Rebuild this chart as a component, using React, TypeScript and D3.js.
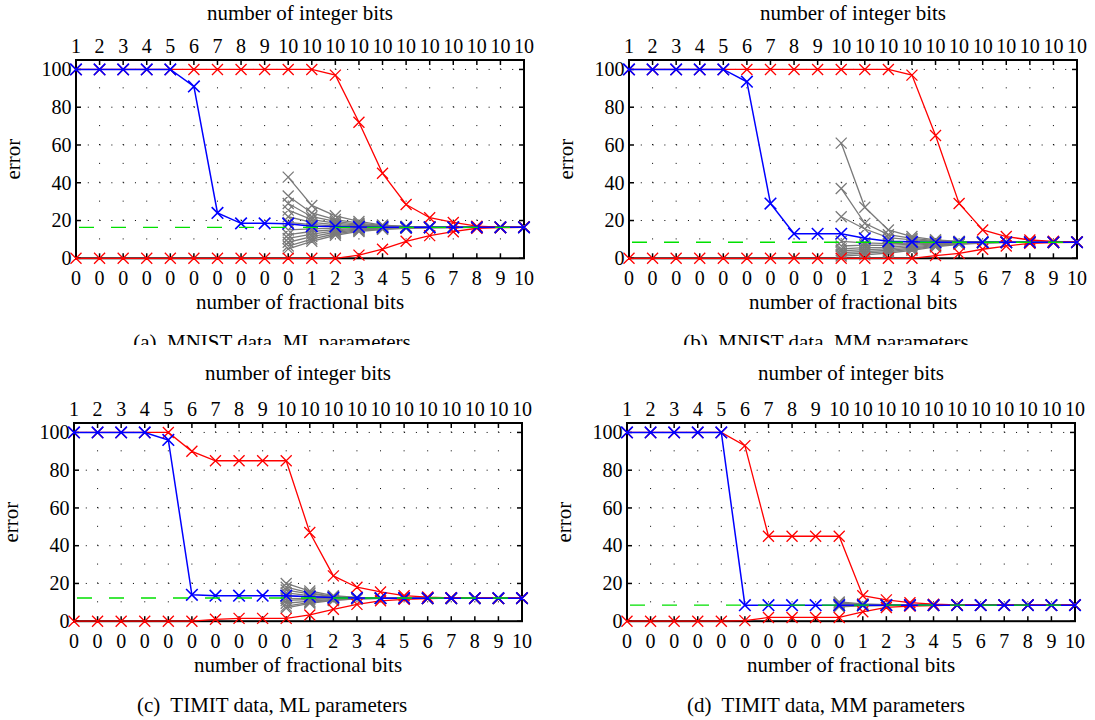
import React from "react";
import * as d3 from "d3";

// ---------- axis labels ----------
const topLabels = ["1", "2", "3", "4", "5", "6", "7", "8", "9", "10", "10", "10", "10", "10", "10", "10", "10", "10", "10", "10"];
const bottomLabels = ["0", "0", "0", "0", "0", "0", "0", "0", "0", "0", "1", "2", "3", "4", "5", "6", "7", "8", "9", "10"];
const yTicks = [0, 20, 40, 60, 80, 100];
const yGridRows = [20, 40, 60, 80, 100];
const yMax = 105;
const grayStart = 9;

// ---------- (a) MNIST data, ML parameters ----------
const mnistMlBlue = [100, 100, 100, 100, 100, 91, 24, 18.5, 18.5, 18.3, 17, 16.8, 16.6, 16.5, 16.4, 16.4, 16.4, 16.4, 16.4, 16.4];
const mnistMlRedHigh = [100, 100, 100, 100, 100, 100, 100, 100, 100, 100, 100, 97, 72, 45, 28.5, 21.5, 19, 17, 16.5, 16.4];
const mnistMlRedLow = [0, 0, 0, 0, 0, 0, 0, 0, 0, 0, 0, 0, 1.7, 4.8, 9, 12, 14.1, 15.9, 16.2, 16.4];
const mnistMlBase = 16.4;
const mnistMlGray = [
  [43, 28, 22.5, 19.5, 17.6, 16.9, 16.6, 16.5, 16.4, 16.4, 16.4],
  [33, 24, 20.5, 18.6, 17.3, 16.8, 16.6, 16.5, 16.4, 16.4, 16.4],
  [29, 22, 19.5, 18, 17.1, 16.7, 16.5, 16.4, 16.4, 16.4, 16.4],
  [25.5, 20.5, 18.6, 17.6, 16.9, 16.6, 16.5, 16.4, 16.4, 16.4, 16.4],
  [22, 19, 17.8, 17.2, 16.8, 16.6, 16.5, 16.4, 16.4, 16.4, 16.4],
  [19, 17.8, 17.2, 16.9, 16.6, 16.5, 16.4, 16.4, 16.4, 16.4, 16.4],
  [15, 15.6, 16, 16.2, 16.3, 16.4, 16.4, 16.4, 16.4, 16.4, 16.4],
  [12.5, 14.2, 15.2, 15.8, 16.1, 16.3, 16.4, 16.4, 16.4, 16.4, 16.4],
  [10.5, 12.8, 14.5, 15.4, 15.9, 16.2, 16.3, 16.4, 16.4, 16.4, 16.4],
  [8.5, 11.5, 13.8, 15, 15.7, 16.1, 16.3, 16.4, 16.4, 16.4, 16.4],
  [6.5, 10.2, 13, 14.6, 15.5, 16, 16.2, 16.3, 16.4, 16.4, 16.4],
  [5, 9, 12.2, 14.2, 15.3, 15.9, 16.2, 16.3, 16.4, 16.4, 16.4],
];

// ---------- (b) MNIST data, MM parameters ----------
const mnistMmBlue = [100, 100, 100, 100, 100, 93.5, 29, 13, 13, 13, 10.6, 9, 8.7, 8.5, 8.5, 8.5, 8.5, 8.5, 8.5, 8.5];
const mnistMmRedHigh = [100, 100, 100, 100, 100, 100, 100, 100, 100, 100, 100, 100, 97, 65, 29, 15, 11.5, 9.7, 9, 8.5];
const mnistMmRedLow = [0, 0, 0, 0, 0, 0, 0, 0, 0, 0, 0, 0, 0, 1.4, 2.6, 4.8, 6.5, 7.9, 8.3, 8.5];
const mnistMmBase = 8.5;
const mnistMmGray = [
  [61, 27, 15, 11.5, 9.8, 9, 8.7, 8.5, 8.5, 8.5, 8.5],
  [37, 18.5, 12.5, 10.5, 9.4, 8.8, 8.6, 8.5, 8.5, 8.5, 8.5],
  [22, 15.5, 11, 9.8, 9.1, 8.7, 8.5, 8.5, 8.5, 8.5, 8.5],
  [9, 8.2, 7.8, 8.1, 8.3, 8.4, 8.5, 8.5, 8.5, 8.5, 8.5],
  [6.5, 7, 6.8, 7.5, 8, 8.3, 8.4, 8.5, 8.5, 8.5, 8.5],
  [5, 5.7, 5.8, 6.8, 7.6, 8.1, 8.4, 8.5, 8.5, 8.5, 8.5],
  [4, 4.6, 5, 6, 7.2, 8, 8.3, 8.5, 8.5, 8.5, 8.5],
  [3, 3.6, 4.2, 5.4, 6.8, 7.8, 8.3, 8.4, 8.5, 8.5, 8.5],
  [2, 2.7, 3.5, 4.8, 6.4, 7.6, 8.2, 8.4, 8.5, 8.5, 8.5],
  [1.2, 1.8, 2.8, 4.2, 6, 7.4, 8.1, 8.4, 8.5, 8.5, 8.5],
];

// ---------- (c) TIMIT data, ML parameters ----------
const timitMlBlue = [100, 100, 100, 100, 96, 14, 13.5, 13.5, 13.5, 13.5, 13, 12.5, 12.3, 12.2, 12.2, 12.2, 12.2, 12.2, 12.2, 12.2];
const timitMlRedHigh = [100, 100, 100, 100, 100, 90, 85, 85, 85, 85, 47, 24, 18, 15.5, 13.5, 12.8, 12.4, 12.2, 12.2, 12.2];
const timitMlRedLow = [0, 0, 0, 0, 0, 0, 1, 1.5, 1.5, 1.5, 3.3, 6.3, 8.9, 10.8, 11.6, 12, 12.2, 12.2, 12.2, 12.2];
const timitMlBase = 12.3;
const timitMlGray = [
  [20, 16, 13.5, 12.6, 12.3, 12.2, 12.2, 12.2, 12.2, 12.2, 12.2],
  [18, 15, 13.2, 12.5, 12.3, 12.2, 12.2, 12.2, 12.2, 12.2, 12.2],
  [16.5, 14.5, 13, 12.4, 12.2, 12.2, 12.2, 12.2, 12.2, 12.2, 12.2],
  [15, 13.6, 12.8, 12.4, 12.2, 12.2, 12.2, 12.2, 12.2, 12.2, 12.2],
  [13.5, 12.9, 12.5, 12.3, 12.2, 12.2, 12.2, 12.2, 12.2, 12.2, 12.2],
  [12, 12.1, 12.2, 12.2, 12.2, 12.2, 12.2, 12.2, 12.2, 12.2, 12.2],
  [11, 11.5, 12, 12.1, 12.2, 12.2, 12.2, 12.2, 12.2, 12.2, 12.2],
  [9.5, 10.6, 11.5, 12, 12.1, 12.2, 12.2, 12.2, 12.2, 12.2, 12.2],
  [8, 10, 11.2, 11.9, 12.1, 12.2, 12.2, 12.2, 12.2, 12.2, 12.2],
  [7, 9.5, 11, 11.8, 12.1, 12.2, 12.2, 12.2, 12.2, 12.2, 12.2],
];

// ---------- (d) TIMIT data, MM parameters ----------
const timitMmBlue = [100, 100, 100, 100, 100, 8.5, 8.5, 8.5, 8.5, 8.5, 8.5, 8.5, 8.5, 8.5, 8.5, 8.5, 8.5, 8.5, 8.5, 8.5];
const timitMmRedHigh = [100, 100, 100, 100, 100, 93, 45, 45, 45, 45, 13.5, 11.3, 9.8, 9, 8.7, 8.5, 8.5, 8.5, 8.5, 8.5];
const timitMmRedLow = [0, 0, 0, 0, 0, 0.3, 2, 2, 2, 2, 5, 7.3, 8, 8.3, 8.5, 8.5, 8.5, 8.5, 8.5, 8.5];
const timitMmBase = 8.5;
const timitMmGray = [
  [10.2, 9.2, 8.8, 8.6, 8.5, 8.5, 8.5, 8.5, 8.5, 8.5, 8.5],
  [9.6, 8.9, 8.7, 8.5, 8.5, 8.5, 8.5, 8.5, 8.5, 8.5, 8.5],
  [9, 8.7, 8.6, 8.5, 8.5, 8.5, 8.5, 8.5, 8.5, 8.5, 8.5],
  [8.5, 8.5, 8.5, 8.5, 8.5, 8.5, 8.5, 8.5, 8.5, 8.5, 8.5],
  [8, 8.3, 8.4, 8.5, 8.5, 8.5, 8.5, 8.5, 8.5, 8.5, 8.5],
  [7.6, 8.1, 8.3, 8.4, 8.5, 8.5, 8.5, 8.5, 8.5, 8.5, 8.5],
];

const FONT = "Liberation Serif, Times New Roman, Times, serif";
const BLUE = "#0000ff";
const RED = "#ff0000";
const GRAY = "#7a7a7a";
const GREEN = "#00e000";

type PanelDef = {
  id: string;
  caption: string;
  blue: number[];
  redHigh: number[];
  redLow: number[];
  base: number;
  gray: number[][];
  left: number;
  right: number;
  top: number;
  bottom: number;
  capX: number;
  clipCaption: boolean;
};

const panels: PanelDef[] = [
  { id: "a", caption: "(a)  MNIST data, ML parameters", blue: mnistMlBlue, redHigh: mnistMlRedHigh, redLow: mnistMlRedLow, base: mnistMlBase, gray: mnistMlGray, left: 76, right: 524, top: 60, bottom: 258.3, capX: 272, clipCaption: true },
  { id: "b", caption: "(b)  MNIST data, MM parameters", blue: mnistMmBlue, redHigh: mnistMmRedHigh, redLow: mnistMmRedLow, base: mnistMmBase, gray: mnistMmGray, left: 629, right: 1077, top: 60, bottom: 258.3, capX: 826, clipCaption: true },
  { id: "c", caption: "(c)  TIMIT data, ML parameters", blue: timitMlBlue, redHigh: timitMlRedHigh, redLow: timitMlRedLow, base: timitMlBase, gray: timitMlGray, left: 74, right: 522, top: 423, bottom: 621.2, capX: 272, clipCaption: false },
  { id: "d", caption: "(d)  TIMIT data, MM parameters", blue: timitMmBlue, redHigh: timitMmRedHigh, redLow: timitMmRedLow, base: timitMmBase, gray: timitMmGray, left: 627, right: 1075, top: 423, bottom: 621.2, capX: 826, clipCaption: false },
];

function xMark(cx: number, cy: number, r: number) {
  return `M${cx - r},${cy - r}L${cx + r},${cy + r}M${cx - r},${cy + r}L${cx + r},${cy - r}`;
}

const textStyle: React.CSSProperties = { fontFamily: FONT, whiteSpace: "pre" };

function Panel({ p }: { p: PanelDef }) {
  const x = d3.scaleLinear().domain([0, topLabels.length - 1]).range([p.left, p.right]);
  const y = d3.scaleLinear().domain([0, yMax]).range([p.bottom, p.top]);
  const line = d3.line<number>().x((_, i) => x(i)).y((d) => y(d));
  const grayLine = d3.line<number>().x((_, i) => x(i + grayStart)).y((d) => y(d));
  const step = x(1) - x(0);
  const unit10 = y(0) - y(10);
  const idx = d3.range(topLabels.length);
  const midX = (p.left + p.right) / 2;
  const midY = (p.top + p.bottom) / 2;

  const series = (vals: number[], color: string, sw: number, r: number, msw: number) => (
    <g>
      <path d={line(vals) || ""} fill="none" stroke={color} strokeWidth={sw} />
      <path d={vals.map((v, i) => xMark(x(i), y(v), r)).join("")} fill="none" stroke={color} strokeWidth={msw} />
    </g>
  );

  return (
    <g>
      {/* dotted grid */}
      <g stroke="#000" strokeWidth={1} fill="none">
        {idx.slice(1, -1).map((i) => (
          <path key={"v" + i} d={`M${x(i)},${y(0)}V${y(yMax)}`} strokeDasharray={`1 ${unit10 - 1}`} />
        ))}
        {yGridRows.map((v) => (
          <path key={"h" + v} d={`M${p.left},${y(v)}H${p.right}`} strokeDasharray={`1 ${step / 2 - 1}`} />
        ))}
      </g>
      {/* border */}
      <rect x={p.left} y={p.top} width={p.right - p.left} height={p.bottom - p.top} fill="none" stroke="#000" strokeWidth={2} />
      {/* ticks */}
      <g stroke="#000" strokeWidth={1.5}>
        {idx.map((i) => (
          <g key={"t" + i}>
            <line x1={x(i)} x2={x(i)} y1={p.top} y2={p.top + 5} />
            <line x1={x(i)} x2={x(i)} y1={p.bottom} y2={p.bottom - 5} />
          </g>
        ))}
        {yTicks.map((v) => (
          <g key={"yt" + v}>
            <line x1={p.left} x2={p.left + 5} y1={y(v)} y2={y(v)} />
            <line x1={p.right} x2={p.right - 5} y1={y(v)} y2={y(v)} />
          </g>
        ))}
      </g>
      {/* tick labels */}
      <g fontSize={20} fill="#000" textAnchor="middle" style={textStyle}>
        {topLabels.map((t, i) => (
          <text key={"tl" + i} x={x(i)} y={p.top - 7}>{t}</text>
        ))}
        {bottomLabels.map((t, i) => (
          <text key={"bl" + i} x={x(i)} y={p.bottom + 26.5}>{t}</text>
        ))}
        {yTicks.map((v) => (
          <text key={"yl" + v} x={p.left - 4.5} y={y(v) + 6.8} textAnchor="end">{v}</text>
        ))}
      </g>
      {/* axis titles */}
      <g fontSize={21} fill="#000" textAnchor="middle" style={textStyle}>
        <text x={midX} y={Math.max(p.top - 43.5, 19.5)}>number of integer bits</text>
        <text x={midX} y={p.bottom + 51}>number of fractional bits</text>
        <text transform={`translate(${p.left - 56},${midY}) rotate(-90)`}>error</text>
      </g>
      {/* gray lines */}
      <g>
        {p.gray.map((g, k) => (
          <g key={"g" + k}>
            <path d={grayLine(g) || ""} fill="none" stroke={GRAY} strokeWidth={1.3} />
            <path d={g.map((v, i) => xMark(x(i + grayStart), y(v), 5.5)).join("")} fill="none" stroke={GRAY} strokeWidth={1.3} />
          </g>
        ))}
      </g>
      {/* red lines */}
      {series(p.redLow, RED, 1.3, 5.5, 1.3)}
      {series(p.redHigh, RED, 1.3, 5.5, 1.3)}
      {/* blue */}
      {series(p.blue, BLUE, 1.5, 5.8, 1.6)}
      {/* green dashed reference */}
      <path d={`M${p.left + 3},${y(p.base)}H${p.right}`} stroke={GREEN} strokeWidth={1.4} strokeDasharray="15 17" fill="none" />
      {/* caption */}
      <text
        x={p.capX}
        y={p.bottom + 91}
        fontSize={21}
        textAnchor="middle"
        style={textStyle}
        clipPath={p.clipCaption ? "url(#capClip)" : undefined}
      >
        {p.caption}
      </text>
    </g>
  );
}

export default function App() {
  return (
    <svg width={1095} height={720} viewBox="0 0 1095 720" style={{ display: "block", position: "absolute", left: 0, top: 0, background: "#fff" }}>
      <defs>
        <clipPath id="capClip">
          <rect x={0} y={300} width={1095} height={45} />
        </clipPath>
      </defs>
      <rect x={0} y={0} width={1095} height={720} fill="#fff" />
      {panels.map((p) => (
        <Panel key={p.id} p={p} />
      ))}
    </svg>
  );
}
